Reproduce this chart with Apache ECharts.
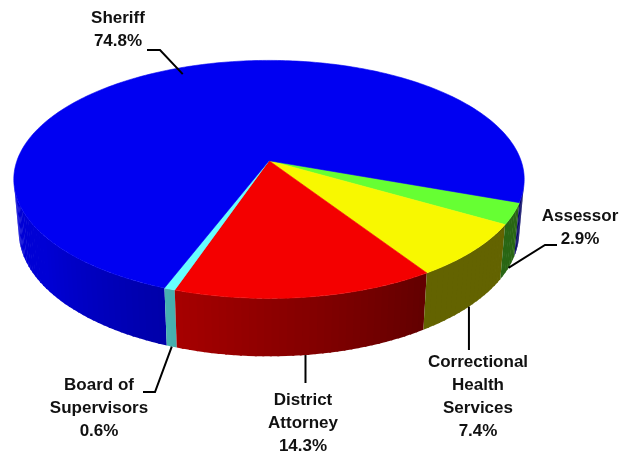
<!DOCTYPE html>
<html>
<head>
<meta charset="utf-8">
<script src="https://cdn.jsdelivr.net/npm/echarts@6/dist/echarts.min.js"></script>
<style>
  html, body { margin: 0; padding: 0; background: #ffffff; }
  #chart { width: 631px; height: 455px; }
</style>
</head>
<body>
<div id="chart"></div>
<script>
// Slices listed clockwise, starting just below the right edge of the pie.
const categories = ['Assessor', 'Correctional Health Services', 'District Attorney', 'Board of Supervisors', 'Sheriff'];
const labelNames = ['Assessor', 'Correctional\nHealth\nServices', 'District\nAttorney', 'Board of\nSupervisors', 'Sheriff'];
const shares = [2.9, 7.4, 14.3, 0.6, 74.8];
const topColors = ['#66FF33', '#F8F800', '#F40000', '#66FFFF', '#0000F2'];

// Camera / disc geometry for the tilted, slightly perspective pie.
const view = { cx: 269, cy: 160.7, f: 1424, dist: 5.65, sinA: 0.4605, cosA: 0.888, depth: 0.235, start: 20 };

// Label placement: text anchor and the leader path from the slice to the text.
// A null x means "keep the x of the anchor" (vertical leader).
const labelLayout = [
  { x: 580, y: 204.5, leader: [[545, 245], [557, 245]], onTop: false },
  { x: 478, y: 350.5, leader: [[null, 350]], onTop: false },
  { x: 303, y: 388.5, leader: [[null, 383]], onTop: false },
  { x: 99,  y: 373.5, leader: [[155, 392], [143, 392]], onTop: false },
  { x: 118, y: 7,     leader: [[160, 50], [147, 50]], onTop: true }
];

function project(theta, r, z) {
  const t = theta * Math.PI / 180;
  const x = r * Math.cos(t), y = r * Math.sin(t);
  const sy = y * view.sinA - z * view.cosA;
  const d = view.dist - y * view.cosA - z * view.sinA;
  return [view.cx + view.f * x / d, view.cy + view.f * sy / d];
}

function hexToRgb(h) {
  const n = parseInt(h.slice(1), 16);
  return [(n >> 16) & 255, (n >> 8) & 255, n & 255];
}

// Side wall shading: light comes from the left, walls facing right are darker.
function shade(hex, theta) {
  const t = ((theta % 360) + 360) % 360;
  const s = Math.max(0.4, Math.min(0.88, 0.4 + 0.0055 * (t - 57)));
  const c = hexToRgb(hex).map(v => Math.round(v * s));
  return 'rgb(' + c.join(',') + ')';
}

const total = shares.reduce((a, b) => a + b, 0);
const angles = [];
(function () {
  let a = view.start;
  shares.forEach(v => {
    const span = v / total * 360;
    angles.push([a, a + span]);
    a += span;
  });
})();

// Outer wall only faces the camera between these angles.
const edge = Math.asin(1 / (view.dist * view.cosA)) * 180 / Math.PI;
const wallRange = [edge, 180 - edge];

function renderSlice(params, api) {
  const i = params.dataIndex;
  const [a0, a1] = angles[i];
  const color = topColors[i];
  const children = [];

  // Walls, built from thin strips that overlap a little so no seams show
  [-360, 0, 360].forEach(k => {
    const lo = Math.max(a0, wallRange[0] + k);
    const hi = Math.min(a1, wallRange[1] + k);
    if (hi <= lo) return;
    const n = Math.max(1, Math.ceil((hi - lo) / 1.5));
    for (let j = 0; j < n; j++) {
      const t0 = lo + (hi - lo) * j / n;
      const t1 = Math.min(hi, lo + (hi - lo) * (j + 1) / n + 0.4);
      const c = shade(color, (t0 + t1) / 2);
      children.push({
        type: 'polygon',
        z2: 1 + j * 0.001,
        shape: { points: [project(t0, 1, 0), project(t1, 1, 0), project(t1, 1, -view.depth), project(t0, 1, -view.depth)] },
        style: { fill: c }
      });
    }
  });

  // Top face
  const pts = [project(0, 0, 0)];
  const steps = Math.max(2, Math.ceil(a1 - a0));
  for (let j = 0; j <= steps; j++) pts.push(project(a0 + (a1 - a0) * j / steps, 1, 0));
  children.push({
    type: 'polygon',
    z2: 2,
    shape: { points: pts },
    style: { fill: color, stroke: color, lineWidth: 0.6 }
  });

  // Label with leader line
  const lay = labelLayout[i];
  const mid = (a0 + a1) / 2;
  const anchor = lay.onTop ? project(mid, 0.93, 0) : project(mid, 1, -view.depth);
  const line = [anchor].concat(lay.leader.map(p => [p[0] === null ? anchor[0] : p[0], p[1]]));
  children.push({
    type: 'polyline',
    z2: 5,
    shape: { points: line },
    style: { stroke: '#000000', lineWidth: 2, fill: null }
  });
  children.push({
    type: 'text',
    z2: 6,
    style: {
      text: labelNames[i] + '\n' + api.value(1).toFixed(1) + '%',
      x: lay.x,
      y: lay.y,
      textAlign: 'center',
      textVerticalAlign: 'top',
      align: 'center',
      verticalAlign: 'top',
      font: 'bold 17px "Liberation Sans", Arial, sans-serif',
      lineHeight: 23,
      fill: '#111111'
    }
  });

  return { type: 'group', children: children };
}

const chart = echarts.init(document.getElementById('chart'), null, { renderer: 'canvas' });
chart.setOption({
  backgroundColor: '#ffffff',
  animation: false,
  series: [{
    type: 'custom',
    coordinateSystem: 'none',
    silent: true,
    renderItem: renderSlice,
    data: categories.map((c, i) => ({ name: c, value: [i, shares[i]] }))
  }]
});
</script>
</body>
</html>
